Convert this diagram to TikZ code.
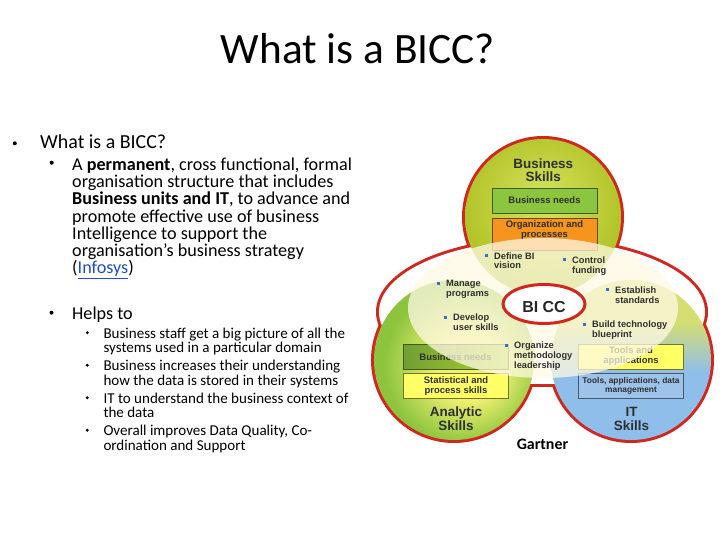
\documentclass[tikz,border=0pt]{standalone}
\usepackage{fontspec}
\setmainfont{Carlito}
\newfontfamily\chartfont{Liberation Sans}
\usepackage{tikz}
\usetikzlibrary{positioning, shapes.geometric}
\definecolor{bicRed}{HTML}{D0281E}
\definecolor{bicInk}{HTML}{2F2F2F}
\definecolor{bicDot}{HTML}{3D6DC4}
\definecolor{bizInner}{HTML}{D6E45E}
\definecolor{bizOuter}{HTML}{B2C42A}
\definecolor{anaInner}{HTML}{F0F172}
\definecolor{anaOuter}{HTML}{8CC43E}
\definecolor{itBlue}{HTML}{8FBEEA}
\definecolor{itYellow}{HTML}{D4DE72}
\definecolor{needsGreen}{HTML}{8CC63F}
\definecolor{orgOrange}{HTML}{F7941D}
\definecolor{skillYellow}{HTML}{FFFF66}
\definecolor{toolBlue}{HTML}{9DC3EA}
\definecolor{linkBlue}{HTML}{1F4FC0}
\definecolor{veilCream}{HTML}{FFF9E4}
\pgfdeclareradialshading{bizShade}{\pgfpoint{0bp}{6bp}}{color(0bp)=(bizInner); color(25bp)=(bizOuter); color(50bp)=(bizOuter)}
\pgfdeclareradialshading{anaShade}{\pgfpoint{6bp}{-3bp}}{color(0bp)=(anaInner); color(10bp)=(anaInner); color(25bp)=(anaOuter); color(50bp)=(anaOuter)}
\pgfdeclareverticalshading{itShade}{100bp}{color(0bp)=(itBlue); color(46bp)=(itBlue); color(62bp)=(itYellow); color(100bp)=(itYellow)}

\begin{document}
\begin{tikzpicture}[x=1bp, y=-1bp,
  lvlone/.style={anchor=base west, inner sep=0pt, font=\fontsize{20}{24}\selectfont},
  lvltwo/.style={anchor=base west, inner sep=0pt, align=left, font=\fontsize{18.2}{17.3}\selectfont},
  lvlthree/.style={anchor=base west, inner sep=0pt, align=left, font=\fontsize{15.1}{14.5}\selectfont},
  dotmark/.style={circle, fill=black, inner sep=0pt, minimum size=#1},
  redrim/.style={draw=bicRed, line width=6bp},
  skillbox/.style={draw=#1!45!black, fill=#1, line width=0.9bp, minimum width=105bp,
    minimum height=25bp, inner sep=1bp, align=center, text=bicInk,
    font=\chartfont\bfseries\fontsize{9.5}{10}\selectfont},
  boxlabel/.style={inner sep=0pt, align=center, text=bicInk,
    font=\chartfont\bfseries\fontsize{9.5}{10}\selectfont},
  skilltitle/.style={anchor=base, inner sep=0pt, align=center, text=bicInk,
    font=\chartfont\bfseries\fontsize{13.5}{13.5}\selectfont},
  pointtext/.style={anchor=base west, inner sep=0pt, align=left, text=bicInk,
    font=\chartfont\bfseries\fontsize{9.3}{10}\selectfont},
  bluedot/.style={rectangle, fill=bicDot, inner sep=0pt, minimum size=3bp}
]
\useasboundingbox (0,0) rectangle (728,546);

\node[anchor=base, inner sep=0pt, font=\fontsize{43.5}{48}\selectfont] (title) at (358,64) {What is a BICC?};

\node[lvlone] (whatIs) at (40,148.3) {What is a BICC?};
\node[dotmark=4bp, left=23bp of whatIs.base west, yshift=5bp] (whatIsDot) {};

\node[lvltwo] (definition) at (72,273.8)
  {A \textbf{permanent}, cross functional, formal\\organisation structure that includes\\\textbf{Business units and IT}, to advance and\\promote effective use of business\\Intelligence to support the\\organisation’s business strategy\\(\textcolor{linkBlue}{\underline{Infosys}})};
\node[dotmark=4bp] (definitionDot) at (51.7,162.7) {};

\node[lvltwo] (helps) at (72,319.3) {Helps to};
\node[dotmark=4bp, left=18.3bp of helps.base west, yshift=6.6bp] (helpsDot) {};

\node[lvlthree] (bigPicture) at (103.3,352.5) {Business staff get a big picture of all the\\systems used in a particular domain};
\node[dotmark=3.2bp] (bigPictureDot) at (87.3,332.7) {};
\node[lvlthree] (storage) at (103.3,385) {Business increases their understanding\\how the data is stored in their systems};
\node[dotmark=3.2bp] (storageDot) at (87.3,365.2) {};
\node[lvlthree] (context) at (103.3,417.5) {IT to understand the business context of\\the data};
\node[dotmark=3.2bp] (contextDot) at (87.3,397.7) {};
\node[lvlthree] (quality) at (103.3,450) {Overall improves Data Quality, Co-\\ordination and Support};
\node[dotmark=3.2bp] (qualityDot) at (87.3,430.2) {};

\draw[redrim] (542,312) ellipse [x radius=163bp, y radius=72bp];
\draw[redrim] (543,217) circle [radius=78bp];
\draw[redrim] (454,360) circle [radius=80bp];
\draw[redrim] (631,360) circle [radius=80bp];
\fill[white] (542,312) ellipse [x radius=163bp, y radius=72bp];
\shade[shading=bizShade] (543,217) circle [radius=78bp];
\shade[shading=anaShade] (454,360) circle [radius=80bp];
\shade[shading=itShade] (631,360) circle [radius=80bp];

\node[skilltitle] (bizTitle) at (543.3,181.5) {Business\\Skills};
\node[skillbox=needsGreen] (bizNeeds) at (544.5,200.5) {Business needs};
\node[skillbox=orgOrange, minimum height=32bp] (orgBox) at (544.5,234) {};
\node[boxlabel, below=2.5bp of orgBox.north] (orgText) {Organization and\\processes};

\node[skillbox=needsGreen, left color=needsGreen!80!black, right color=needsGreen!70!yellow] (anaNeeds) at (455.5,357) {Business needs};
\node[skillbox=skillYellow] (statBox) at (456,386) {Statistical and\\process skills};
\node[skilltitle] (anaTitle) at (456,430) {Analytic\\Skills};

\node[skillbox=skillYellow] (toolsBox) at (631,356.5) {Tools and\\applications};
\node[skillbox=toolBlue, font=\chartfont\bfseries\fontsize{8.4}{9}\selectfont] (dataBox) at (631,386) {Tools, applications, data\\management};
\node[skilltitle] (itTitle) at (631.5,430) {IT\\Skills};

\fill[veilCream, opacity=0.75] (543,308) ellipse [x radius=135bp, y radius=70bp];

\node[ellipse, draw=bicRed, line width=3bp, fill=white, minimum width=82bp, minimum height=39bp,
      inner sep=0pt, text height=17bp, text depth=0pt, text=black!85,
      font=\chartfont\bfseries\fontsize{16}{16}\selectfont] (core) at (544,304) {BI CC};

\node[pointtext] (vision) at (494,269) {Define BI\\vision};
\node[bluedot] (visionDot) at (486.7,255.5) {};
\node[pointtext] (funding) at (572,273.3) {Control\\funding};
\node[bluedot] (fundingDot) at (564.5,259.8) {};
\node[pointtext] (programs) at (446,296.7) {Manage\\programs};
\node[bluedot] (programsDot) at (438.5,283.2) {};
\node[pointtext] (standards) at (615,303.3) {Establish\\standards};
\node[bluedot] (standardsDot) at (607.5,289.8) {};
\node[pointtext] (userSkills) at (453,330.5) {Develop\\user skills};
\node[bluedot] (userSkillsDot) at (445.5,317) {};
\node[pointtext] (blueprint) at (592,337.5) {Build technology\\blueprint};
\node[bluedot] (blueprintDot) at (584.5,324) {};
\node[pointtext] (methodology) at (514,368.5) {Organize\\methodology\\leadership};
\node[bluedot] (methodologyDot) at (506.5,345) {};

\node[anchor=base, inner sep=0pt, font=\bfseries\fontsize{16}{16}\selectfont] (source) at (542.5,449.3) {Gartner};
\end{tikzpicture}
\end{document}
